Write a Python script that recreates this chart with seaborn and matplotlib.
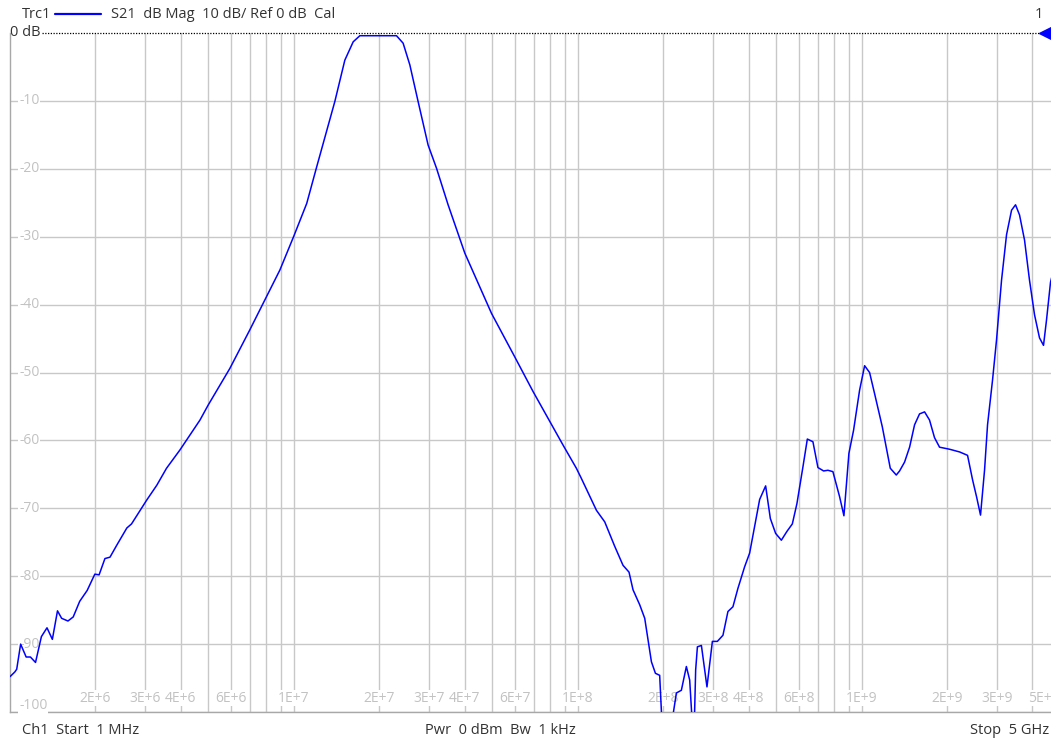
"""VNA screenshot recreation - S21 magnitude of a band-pass filter, 1 MHz .. 5 GHz."""
import numpy as np
import pandas as pd
import matplotlib
matplotlib.use("Agg")
import matplotlib.pyplot as plt
import seaborn as sns

# trace data: frequency in MHz, S21 in dB
freq_mhz = [
    1.00, 1.04, 1.056, 1.09, 1.14, 1.18, 1.23, 1.29, 1.35, 1.41, 1.47, 1.52, 1.60, 1.67,
    1.76, 1.87, 1.99, 2.06, 2.16, 2.25, 2.38, 2.58, 2.68, 3.03, 3.29, 3.56, 3.97, 4.67,
    4.99, 5.95, 7.0, 7.91, 8.93, 10.0, 11.1, 12.0, 13.94, 15.12, 16.18, 17.08, 22.99,
    24.26, 25.62, 27.40, 29.71, 31.8, 34.94, 40.0, 49.7, 60.0, 69.6, 79.7, 88.8, 98.9,
    103.0, 116.4, 124.5, 135.0, 144.4, 151.6, 156.6, 165.3, 172.2, 181.8, 187.8, 194.4,
    199.3, 207.5, 216.5, 222.6, 231.8, 241.4, 248.0, 253.5, 257.0, 260.3, 264.0, 272.7,
    285.3, 298.1, 310.4, 324.8, 338.2, 352.2, 366.7, 387.3, 403.3, 437.4, 459.2, 477.0,
    498.0, 521.6, 545.8, 570.2, 591.9, 621.4, 644.0, 673.9, 701.8, 734.9, 760.9, 792.4,
    836.7, 866.5, 902.3, 937.1, 984.0, 1025, 1067, 1111, 1183, 1262, 1325, 1361, 1417,
    1476, 1537, 1600, 1667, 1735, 1807, 1882, 2041, 2214, 2362, 2460, 2541, 2624, 2711,
    2778, 2893, 2988, 3112, 3241, 3375, 3486, 3601, 3750, 3904, 4067, 4234, 4374, 4481,
    4630, 5000,
]
s21_db = [
    -94.8, -94.1, -93.7, -90.0, -91.9, -91.9, -92.7, -88.9, -87.6, -89.3, -85.1, -86.2, -86.6, -86.0,
    -83.7, -82.1, -79.7, -79.8, -77.4, -77.2, -75.4, -72.9, -72.3, -68.8, -66.6, -64.1, -61.4, -57.0,
    -54.8, -49.4, -43.7, -39.3, -34.9, -29.9, -25.1, -19.9, -10.1, -4.0, -1.3, -0.4, -0.4,
    -1.5, -4.7, -10.1, -16.5, -19.9, -25.3, -32.4, -41.3, -47.7, -52.8, -57.2, -60.7, -64.1,
    -65.6, -70.3, -72.0, -75.6, -78.4, -79.4, -82.0, -84.2, -86.2, -92.6, -94.3, -94.6,
    -104.0, -106.0, -100.5, -97.2, -96.8, -93.3, -95.3, -102.0, -103.0, -93.8, -90.4, -90.2,
    -96.3, -89.6, -89.6, -88.7, -85.2, -84.5, -81.8, -78.6, -76.6, -68.7, -66.7, -71.5,
    -73.7, -74.7, -73.4, -72.3, -69.3, -63.9, -59.8, -60.2, -64.0, -64.5, -64.4, -64.6,
    -68.3, -71.1, -61.9, -58.5, -52.6, -49.0, -50.0, -53.1, -58.0, -64.1, -65.1, -64.5, -63.2,
    -61.0, -57.7, -56.1, -55.8, -57.0, -59.6, -61.0, -61.3, -61.7, -62.2, -65.8, -68.3, -71.0, -64.4,
    -57.7, -51.1, -45.2, -36.4, -29.7, -26.1, -25.3, -26.8, -30.5, -36.4, -41.5, -44.9, -46.0, -42.3,
    -36.7, -31.0,
]

# grid / label settings
xtick_vals = [2e6, 3e6, 4e6, 6e6, 1e7, 2e7, 3e7, 4e7, 6e7, 1e8, 2e8, 3e8, 4e8, 6e8,
              1e9, 2e9, 3e9, 5e9]
xtick_labels = ["2E+6", "3E+6", "4E+6", "6E+6", "1E+7", "2E+7", "3E+7", "4E+7", "6E+7",
                "1E+8", "2E+8", "3E+8", "4E+8", "6E+8", "1E+9", "2E+9", "3E+9", "5E+9"]
ytick_vals = [-10, -20, -30, -40, -50, -60, -70, -80, -90, -100]

df = pd.DataFrame({"freq": np.array(freq_mhz) * 1e6, "s21": s21_db})

sns.set_style("white")
plt.rcParams["font.family"] = ["Open Sans", "DejaVu Sans"]

W, H = 1051, 742
fig = plt.figure(figsize=(W / 100, H / 100), dpi=100)
# plot area: 10px .. 1060px (right edge is cut off by the screenshot), 33px .. 712px
ax = fig.add_axes([10 / W, (H - 712) / H, 1050 / W, 679 / H])

grid_c = "#c8c8c8"
lab_c = "#c2c2c2"
txt_c = "#333333"
blue = "#0000ff"

sns.lineplot(data=df, x="freq", y="s21", ax=ax, color=blue, lw=1.1,
             estimator=None, sort=False, zorder=5)

ax.set_xscale("log")
ax.set_xlim(1e6, 5e9)
ax.set_ylim(-100, 0)

# vertical grid at every 1..9 multiple
vlines = [m * 10.0 ** e for e in range(6, 10) for m in range(1, 10) if 1e6 < m * 10.0 ** e < 5e9]
ax.set_xticks(vlines)
ax.set_xticks([], minor=True)
ax.set_yticks(ytick_vals)
ax.grid(True, color=grid_c, lw=1.0, zorder=0)
ax.tick_params(length=0, labelbottom=False, labelleft=False)
ax.set_xlabel("")
ax.set_ylabel("")

for s in ["top", "right"]:
    ax.spines[s].set_visible(False)
for s in ["left", "bottom"]:
    ax.spines[s].set_color("#a8a8a8")
    ax.spines[s].set_linewidth(1.0)

box = dict(facecolor="white", edgecolor="none", pad=0.6)

# x tick labels inside plot, breaking the grid lines; the last one sits at the cut edge
xt = ax.get_xaxis_transform()
for v, lab in zip(xtick_vals, xtick_labels):
    ha = "right" if lab == "5E+9" else "center"
    ax.text(v, 14 / 679, lab, transform=xt, ha=ha, va="center",
            fontsize=10, color=lab_c, bbox=box, zorder=3, clip_on=False)

# y tick labels inside plot
yt = ax.get_yaxis_transform()
for v in ytick_vals:
    yy = v + 1.0 if v == -100 else v
    ax.text(9 / 1050, yy, str(v), transform=yt, ha="left", va="center",
            fontsize=10, color=lab_c, bbox=box, zorder=3)

# reference line (dotted) and its label / marker
ax.plot([32 / 1050, 1030 / 1050], [0, 0], transform=yt, color="black",
        lw=0.9, ls=(0, (1, 1.2)), clip_on=False, zorder=6)
ax.text(0.0, 0, "0 dB", transform=yt, ha="left", va="center", fontsize=10.5,
        color=txt_c, clip_on=False, zorder=7)
ax.plot([1036 / 1050], [0], transform=yt, marker="<", color=blue, ms=10,
        mec=blue, ls="none", clip_on=False, zorder=7)

# header
fig.text(22 / W, 1 - 14 / H, "Trc1", ha="left", va="center", fontsize=10.5, color=txt_c)
fig.add_artist(plt.Line2D([55 / W, 101 / W], [1 - 14 / H, 1 - 14 / H], color=blue, lw=1.6))
fig.text(111 / W, 1 - 14 / H, "S21  dB Mag  10 dB/ Ref 0 dB  Cal", ha="left", va="center",
         fontsize=10.5, color=txt_c)
fig.text(1043 / W, 1 - 14 / H, "1", ha="right", va="center", fontsize=10.5, color=txt_c)

# footer
fig.text(22 / W, 1 - 731 / H, "Ch1  Start  1 MHz", ha="left", va="center", fontsize=10.5, color=txt_c)
fig.text(425 / W, 1 - 731 / H, "Pwr  0 dBm  Bw  1 kHz", ha="left", va="center", fontsize=10.5,
         color=txt_c)
fig.text(1049 / W, 1 - 731 / H, "Stop  5 GHz", ha="right", va="center", fontsize=10.5, color=txt_c)

fig.savefig("out.png", dpi=100)
